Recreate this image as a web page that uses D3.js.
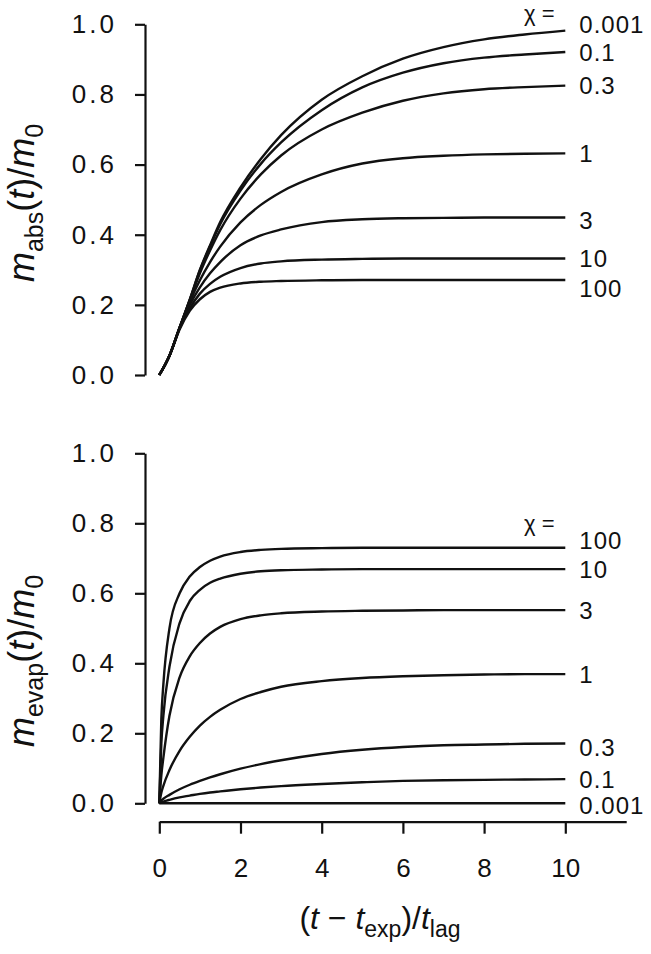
<!DOCTYPE html>
<html>
<head>
<meta charset="utf-8">
<title>Absorption and evaporation</title>
<script src="https://cdn.jsdelivr.net/npm/d3@7"></script>
<style>
  body { margin: 0; background: #fff; }
  text { font-family: "Liberation Sans", Arial, sans-serif; fill: #111; }
  .axis path, .axis line { stroke: #111; stroke-width: 2.2; }
  .curve { fill: none; stroke: #111; stroke-width: 2.4; }
</style>
</head>
<body>
<svg id="chart" width="651" height="954"></svg>
<script>
  /* chi values, in legend order */
  const chiNames = ["0.001", "0.1", "0.3", "1", "3", "10", "100"];

  /* top panel: m_abs(t)/m0 */
  const absX    = [0, 0.25, 0.5, 0.75, 1, 1.25, 1.5, 2, 2.5, 3, 4, 5, 6, 7, 8, 9, 10];
  const abs0001 = [0, 0.055, 0.135, 0.215, 0.3, 0.37, 0.436, 0.535, 0.616, 0.684, 0.785, 0.852, 0.902, 0.935, 0.957, 0.971, 0.982];
  const abs01   = [0, 0.055, 0.135, 0.215, 0.298, 0.367, 0.43, 0.526, 0.602, 0.663, 0.755, 0.82, 0.862, 0.889, 0.905, 0.914, 0.921];
  const abs03   = [0, 0.055, 0.135, 0.213, 0.29, 0.355, 0.413, 0.503, 0.572, 0.626, 0.7, 0.748, 0.782, 0.803, 0.815, 0.821, 0.825];
  const abs1    = [0, 0.055, 0.135, 0.208, 0.27, 0.322, 0.366, 0.435, 0.485, 0.522, 0.572, 0.603, 0.618, 0.625, 0.629, 0.631, 0.632];
  const abs3    = [0, 0.055, 0.135, 0.2, 0.25, 0.29, 0.322, 0.37, 0.398, 0.415, 0.436, 0.444, 0.447, 0.448, 0.449, 0.449, 0.449];
  const abs10   = [0, 0.055, 0.133, 0.19, 0.232, 0.26, 0.28, 0.305, 0.318, 0.324, 0.329, 0.331, 0.332, 0.332, 0.332, 0.332, 0.332];
  const abs100  = [0, 0.055, 0.13, 0.183, 0.216, 0.237, 0.249, 0.261, 0.266, 0.268, 0.27, 0.271, 0.271, 0.271, 0.271, 0.271, 0.271];

  /* bottom panel: m_evap(t)/m0 */
  const evapX    = [0, 0.05, 0.1, 0.25, 0.5, 0.75, 1, 1.25, 1.5, 2, 2.5, 3, 4, 5, 6, 7, 8, 9, 10];
  const evap0001 = [0, 0, 0, 0, 0, 0, 0, 0, 0, 0, 0, 0, 0, 0, 0, 0, 0, 0, 0];
  const evap01   = [0, 0.003, 0.005, 0.01, 0.017, 0.022, 0.027, 0.031, 0.034, 0.04, 0.045, 0.049, 0.055, 0.06, 0.064, 0.066, 0.067, 0.068, 0.069];
  const evap03   = [0, 0.008, 0.013, 0.024, 0.04, 0.053, 0.064, 0.074, 0.083, 0.099, 0.112, 0.123, 0.141, 0.153, 0.161, 0.166, 0.168, 0.17, 0.171];
  const evap1    = [0, 0.03, 0.05, 0.095, 0.15, 0.19, 0.222, 0.247, 0.267, 0.298, 0.318, 0.333, 0.349, 0.358, 0.363, 0.366, 0.368, 0.369, 0.369];
  const evap3    = [0, 0.08, 0.13, 0.25, 0.36, 0.42, 0.458, 0.485, 0.504, 0.526, 0.537, 0.543, 0.548, 0.55, 0.551, 0.552, 0.552, 0.552, 0.552];
  const evap10   = [0, 0.17, 0.25, 0.39, 0.515, 0.578, 0.61, 0.63, 0.642, 0.656, 0.663, 0.666, 0.668, 0.669, 0.669, 0.669, 0.669, 0.669, 0.669];
  const evap100  = [0, 0.24, 0.34, 0.5, 0.6, 0.648, 0.675, 0.693, 0.705, 0.718, 0.724, 0.727, 0.729, 0.73, 0.73, 0.73, 0.73, 0.73, 0.73];

  const yTicks = [0, 0.2, 0.4, 0.6, 0.8, 1.0];
  const xTicks = [0, 2, 4, 6, 8, 10];

  const absSeries  = [abs0001, abs01, abs03, abs1, abs3, abs10, abs100];
  const evapSeries = [evap0001, evap01, evap03, evap1, evap3, evap10, evap100];

  // small vertical nudges for the end labels (px)
  const absNudge  = { "0.001": -6, "3": 3, "100": 8 };
  const evapNudge = { "100": -7, "0.3": 4, "0.001": 2 };

  const svg = d3.select('#chart');
  const x = d3.scaleLinear().domain([0, 10]).range([159.3, 565.3]);
  const axisX = 145;

  const panels = [
    { xs: absX, series: absSeries, nudge: absNudge, top: 24.3, bottom: 375, chiY: 21, title: 'abs', titleY: 203 },
    { xs: evapX, series: evapSeries, nudge: evapNudge, top: 453.3, bottom: 803.3, chiY: 531, title: 'evap', titleY: 661 }
  ];

  panels.forEach(p => {
    const y = d3.scaleLinear().domain([0, 1]).range([p.bottom, p.top]);

    const yAxis = d3.axisLeft(y)
      .tickValues(yTicks)
      .tickFormat(d3.format('.1f'))
      .tickSize(10)
      .tickSizeOuter(0)
      .tickPadding(18);

    svg.append('g')
      .attr('class', 'axis')
      .attr('transform', `translate(${axisX},0)`)
      .call(yAxis)
      .call(g => g.selectAll('text')
        .attr('font-size', 26)
        .attr('letter-spacing', 3)
        .attr('font-family', '"Liberation Sans", Arial, sans-serif'));

    const line = d3.line()
      .x((d, i) => x(p.xs[i]))
      .y(d => y(d))
      .curve(d3.curveMonotoneX);

    svg.append('g')
      .selectAll('path')
      .data(p.series)
      .join('path')
      .attr('class', 'curve')
      .attr('d', d => line(d));

    svg.append('g')
      .selectAll('text')
      .data(p.series)
      .join('text')
      .attr('x', x(10) + 14)
      .attr('y', (d, i) => y(d[d.length - 1]) + (p.nudge[chiNames[i]] || 0))
      .attr('dy', '0.36em')
      .attr('font-size', 24)
      .attr('letter-spacing', 1)
      .text((d, i) => chiNames[i]);

    svg.append('text')
      .attr('x', 524)
      .attr('y', p.chiY)
      .attr('font-size', 22)
      .text('χ =');

    // rotated y title
    const t = svg.append('text')
      .attr('transform', `translate(34,${p.titleY}) rotate(-90)`)
      .attr('text-anchor', 'middle')
      .attr('font-size', 36);
    t.append('tspan').attr('font-style', 'italic').text('m');
    t.append('tspan').attr('font-size', 25).attr('dy', 9).text(p.title);
    t.append('tspan').attr('dy', -9).text('(');
    t.append('tspan').attr('font-style', 'italic').text('t');
    t.append('tspan').text(')/');
    t.append('tspan').attr('font-style', 'italic').text('m');
    t.append('tspan').attr('font-size', 25).attr('dy', 9).text('0');
  });

  /* x axis under the lower panel, running a bit past 10 */
  const xAxisScale = d3.scaleLinear().domain([0, 11.5]).range([x(0), x(11.5)]);
  svg.append('g')
    .attr('class', 'axis')
    .attr('transform', 'translate(0,821.7)')
    .call(d3.axisBottom(xAxisScale)
      .tickValues(xTicks)
      .tickSize(12)
      .tickSizeOuter(0)
      .tickPadding(25))
    .call(g => g.selectAll('text')
      .attr('font-size', 26)
      .attr('font-family', '"Liberation Sans", Arial, sans-serif'));

  const xt = svg.append('text')
    .attr('x', 380)
    .attr('y', 929)
    .attr('text-anchor', 'middle')
    .attr('font-size', 32);
  xt.append('tspan').text('(');
  xt.append('tspan').attr('font-style', 'italic').text('t');
  xt.append('tspan').text(' − ');
  xt.append('tspan').attr('font-style', 'italic').text('t');
  xt.append('tspan').attr('font-size', 23).attr('dy', 8).text('exp');
  xt.append('tspan').attr('dy', -8).text(')/');
  xt.append('tspan').attr('font-style', 'italic').text('t');
  xt.append('tspan').attr('font-size', 23).attr('dy', 8).text('lag');
</script>
</body>
</html>
